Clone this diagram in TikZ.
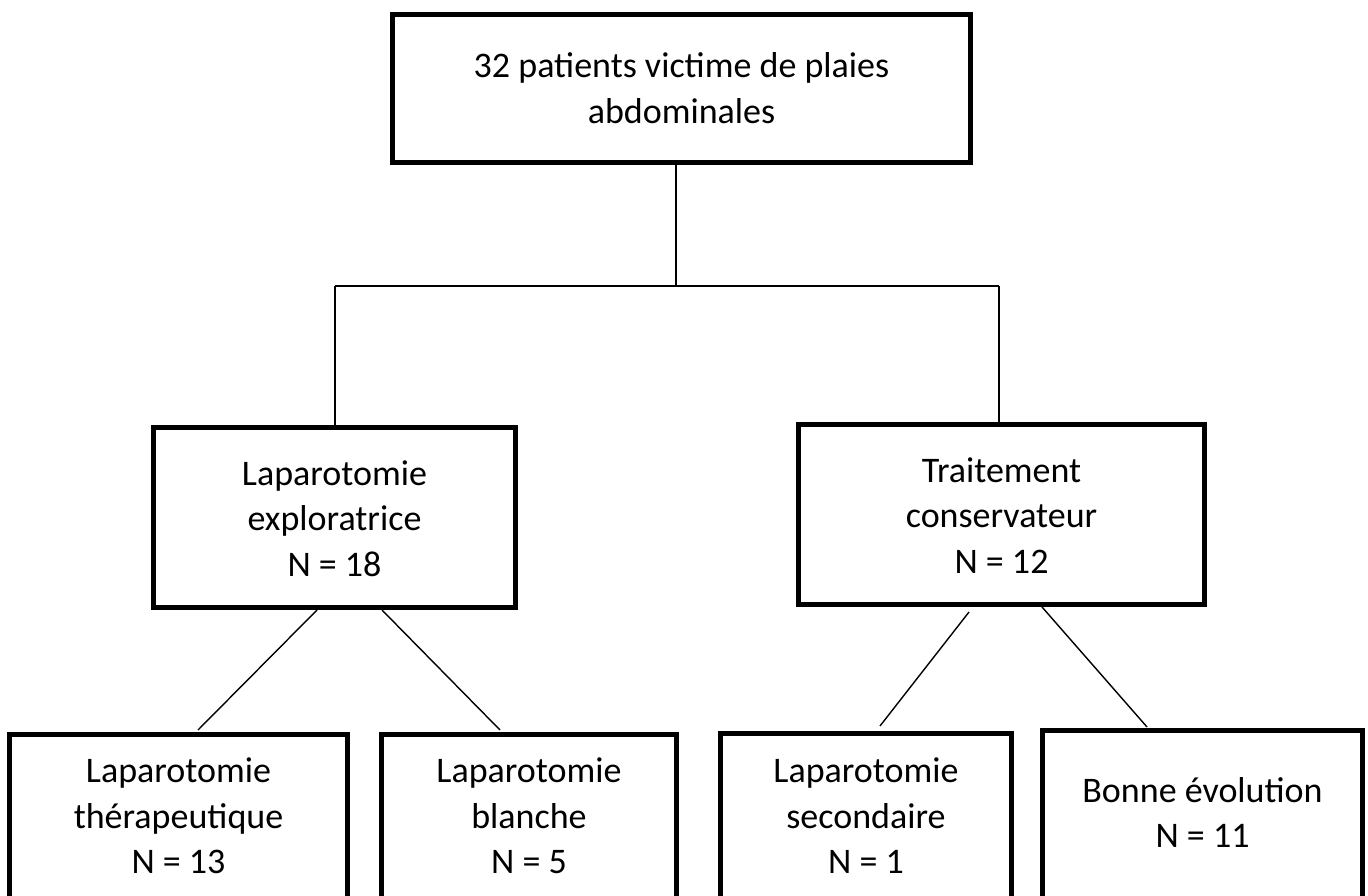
\documentclass[tikz,border=0pt]{standalone}
\usepackage{fontspec}
\setmainfont{Carlito}
\newcommand\firstA{\rule{0pt}{37.9pt}}
\newcommand\firstB{\rule{0pt}{39.9pt}}
\begin{document}
\begin{tikzpicture}[x=1pt,y=-1pt,
  box/.style={draw=black, line width=5pt, rectangle, inner sep=0pt, align=center,
    font=\fontsize{36}{45.5}\selectfont},
  link/.style={draw=black, line width=1.4pt}]
\useasboundingbox (0,0) rectangle (1368,896);
\clip (0,0) rectangle (1368,896);
\node[box, minimum width=578pt, minimum height=148pt] (top) at (681.5,88.5)
  {\firstA 32 patients victime de plaies\\\strut abdominales};
\node[box, minimum width=362pt, minimum height=180pt] (ml) at (334.5,517.5)
  {\firstB Laparotomie\\\strut exploratrice\\\strut N = 18};
\node[box, minimum width=406pt, minimum height=180pt] (mr) at (1001.5,514.5)
  {\firstB Traitement\\\strut conservateur\\\strut N = 12};
\node[box, minimum width=338pt, minimum height=169pt] (bl) at (178.5,819)
  {\strut Laparotomie\\\strut thérapeutique\\\strut N = 13};
\node[box, minimum width=295pt, minimum height=169pt] (bml) at (529,819)
  {\strut Laparotomie\\\strut blanche\\\strut N = 5};
\node[box, minimum width=291pt, minimum height=171pt] (bmr) at (866,819)
  {\strut Laparotomie\\\strut secondaire\\\strut N = 1};
\node[box, minimum width=320pt, minimum height=171pt] (br) at (1202.5,816)
  {\strut Bonne évolution\\\strut N = 11};
\coordinate (j) at (676,286);
\coordinate (hl) at (335,286);
\coordinate (hr) at (999,286);
\draw[link] (top.south -| j) -- (j);
\draw[link] (hl) -- (hr);
\draw[link] (hl) -- (hl |- ml.north);
\draw[link] (hr) -- (hr |- mr.north);
\draw[link] ([xshift=-17.5pt]ml.south) -- ([xshift=19.5pt,yshift=2pt]bl.north);
\draw[link] ([xshift=47.5pt]ml.south) -- ([xshift=-29pt,yshift=2pt]bml.north);
\draw[link] ([xshift=-32.5pt,yshift=-5pt]mr.south) -- ([xshift=14pt,yshift=5pt]bmr.north);
\draw[link] ([xshift=40.5pt]mr.south) -- ([xshift=-55.5pt,yshift=1pt]br.north);
\end{tikzpicture}
\end{document}
